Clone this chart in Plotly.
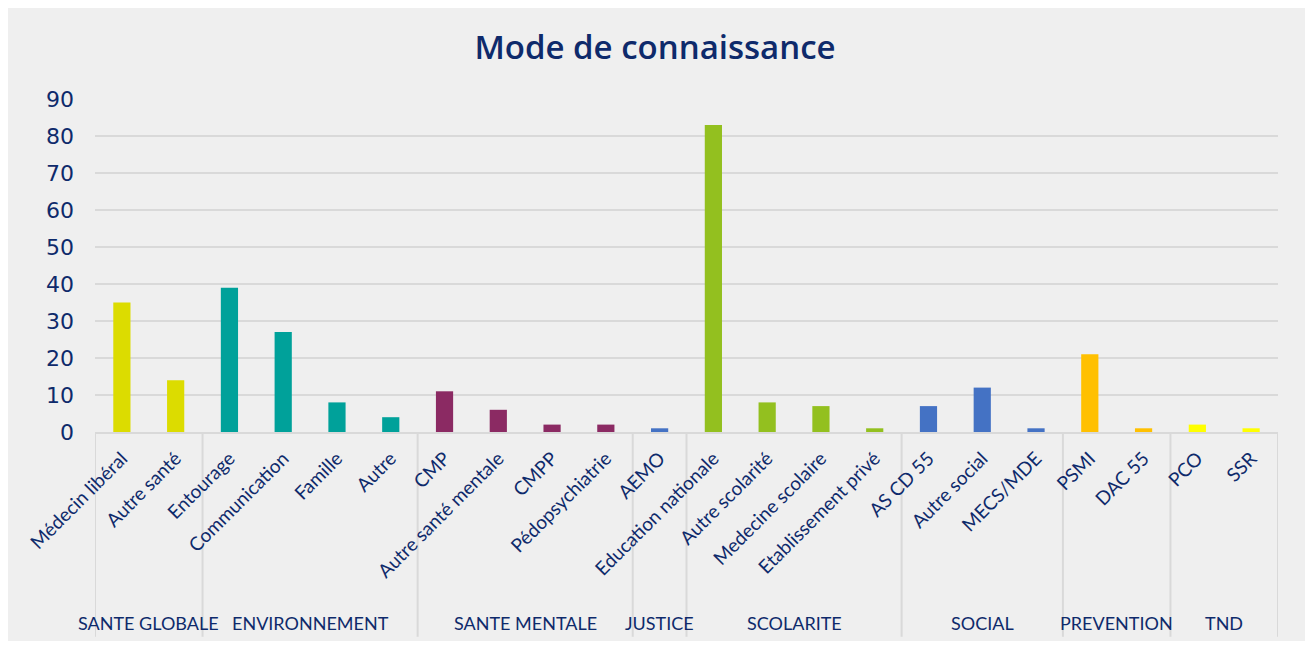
import plotly.graph_objects as go

# ---- data ----
categories = ["Médecin libéral", "Autre santé",
              "Entourage", "Communication", "Famille", "Autre",
              "CMP", "Autre santé mentale", "CMPP", "Pédopsychiatrie",
              "AEMO",
              "Education nationale", "Autre scolarité", "Medecine scolaire", "Etablissement privé",
              "AS CD 55", "Autre social", "MECS/MDE",
              "PSMI", "DAC 55",
              "PCO", "SSR"]
values = [35, 14,
          39, 27, 8, 4,
          11, 6, 2, 2,
          1,
          83, 8, 7, 1,
          7, 12, 1,
          21, 1,
          2, 1]
groups = ["SANTE GLOBALE", "ENVIRONNEMENT", "SANTE MENTALE", "JUSTICE",
          "SCOLARITE", "SOCIAL", "PREVENTION", "TND"]
group_sizes = [2, 4, 4, 1, 4, 3, 2, 2]
group_colors = ["#DCDC00", "#00A19A", "#8B2A63", "#4472C4",
                "#93C01F", "#4472C4", "#FFC000", "#FFFF00"]
y_ticks = [0, 10, 20, 30, 40, 50, 60, 70, 80, 90]

NAVY = "#0E2A6B"
GRID = "#D9D9D9"

bar_colors = []
for c, n in zip(group_colors, group_sizes):
    bar_colors += [c] * n

x_idx = list(range(len(categories)))

fig = go.Figure(go.Bar(
    x=x_idx, y=values, marker=dict(color=bar_colors, line=dict(width=0)),
    width=0.32, hoverinfo="x+y",
))

W, H = 1297, 633
L, T = 87, 91
PW, PH = 1183, 333

shapes = []
annotations = []
# background panel
shapes.append(dict(type="rect", xref="paper", yref="paper", layer="below",
                   x0=-L / PW, x1=(W - L) / PW, y0=-(H - T - PH) / PH, y1=(PH + T) / PH,
                   fillcolor="#EFEFEF", line=dict(width=0)))
start = 0
bounds = [-0.5]
for g, n in zip(groups, group_sizes):
    end = start + n
    bounds.append(end - 0.5)
    annotations.append(dict(x=(start + end - 1) / 2, y=-0.574, xref="x", yref="paper",
                            text=g, showarrow=False, xanchor="center", yanchor="middle",
                            font=dict(family="Lato", size=18, color=NAVY)))
    start = end
for b in bounds:
    shapes.append(dict(type="line", xref="x", yref="paper", x0=b, x1=b,
                       y0=0, y1=-0.615, line=dict(color=GRID, width=2), layer="below"))

fig.update_layout(
    width=W, height=H,
    margin=dict(l=L, r=W - L - PW, t=T, b=H - T - PH),
    paper_bgcolor="white", plot_bgcolor="rgba(0,0,0,0)",
    title=dict(text="Mode de connaissance", x=(655 - 8) / W, xanchor="center",
               y=1 - 39 / H, yanchor="middle",
               font=dict(family="Open Sans", size=33, color=NAVY, weight=600)),
    showlegend=False,
    shapes=shapes, annotations=annotations,
)
fig.update_xaxes(
    tickmode="array", tickvals=x_idx, ticktext=categories,
    tickangle=-45, range=[-0.5, len(categories) - 0.5],
    tickfont=dict(family="Lato", size=19, color=NAVY),
    showgrid=False, showline=True, linecolor=GRID, linewidth=2,
    ticks="", zeroline=False, ticklabelstandoff=6,
)
fig.update_yaxes(
    range=[0, 90], tickvals=y_ticks,
    tickfont=dict(family="DejaVu Sans", size=22, color=NAVY),
    showgrid=True, gridcolor=GRID, gridwidth=2,
    zeroline=False, showline=False, ticks="",
    ticklabelstandoff=20,
)

fig.write_html("out.html")
